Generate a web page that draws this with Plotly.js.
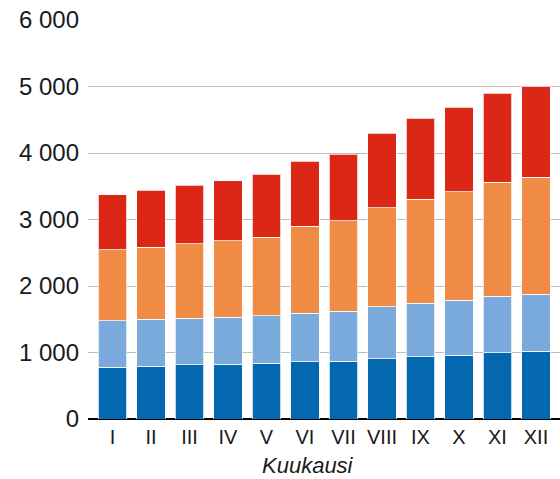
<!DOCTYPE html>
<html>
<head>
<meta charset="utf-8">
<script src="https://cdn.plot.ly/plotly-3.0.1.min.js"></script>
<style>html,body{margin:0;padding:0;background:#fff;}#chart{width:560px;height:479px;}</style>
</head>
<body>
<div id="chart"></div>
<script>
const months = ["I","II","III","IV","V","VI","VII","VIII","IX","X","XI","XII"];
const seriesDarkBlue  = [780, 795, 816, 820, 836, 862, 868, 905, 937, 961, 997, 1017];
const seriesLightBlue = [699, 703, 702, 709, 718, 731, 751, 785, 802, 828, 852, 858];
const seriesOrange    = [1063, 1085, 1121, 1149, 1179, 1306, 1366, 1485, 1562, 1627, 1713, 1758];
const seriesRed       = [828, 854, 873, 903, 945, 979, 998, 1120, 1220, 1275, 1340, 1370];
const yTickVals = [0, 1000, 2000, 3000, 4000, 5000, 6000];
const yTickText = ["0", "1 000", "2 000", "3 000", "4 000", "5 000", "6 000"];
const xTitle = "Kuukausi";

const colors = ["#0468b1", "#79aadb", "#f08b45", "#dc2716"];
const allSeries = [seriesDarkBlue, seriesLightBlue, seriesOrange, seriesRed];

const traces = allSeries.map((vals, i) => ({
  type: "bar",
  x: months,
  y: vals,
  marker: { color: colors[i], line: { color: "rgba(255,255,255,0.75)", width: 1 } },
  hoverinfo: "skip",
  showlegend: false
}));

const font = "Liberation Sans, Arial, Helvetica, sans-serif";
const layout = {
  width: 560, height: 479,
  margin: { l: 88, r: 0, t: 20, b: 60, pad: 0 },
  paper_bgcolor: "#ffffff",
  plot_bgcolor: "#ffffff",
  barmode: "stack",
  bargap: 0.26,
  font: { family: font, color: "#1a1a1a" },
  xaxis: {
    type: "category",
    range: [-0.636, 11.624],
    showgrid: false,
    showline: false,
    zeroline: false,
    ticks: "",
    tickfont: { size: 20, family: font, color: "#1a1a1a" },
    ticklabelstandoff: 4
  },
  yaxis: {
    range: [0, 6000],
    tickvals: yTickVals,
    ticktext: yTickText,
    showgrid: true,
    gridcolor: "#bdbdbd",
    gridwidth: 1,
    zeroline: true,
    zerolinecolor: "#000000",
    zerolinewidth: 2.5,
    showline: false,
    ticks: "",
    ticklabelstandoff: 8,
    tickfont: { size: 24, family: font, color: "#1a1a1a" },
    fixedrange: true
  },
  annotations: [{
    text: xTitle,
    xref: "paper", yref: "paper",
    x: 0.467, y: -0.082,
    xanchor: "center", yanchor: "top",
    borderpad: 0,
    showarrow: false,
    font: { size: 22, family: font, color: "#1a1a1a", style: "italic" }
  }]
};

Plotly.newPlot("chart", traces, layout, { displayModeBar: false, staticPlot: true });
</script>
</body>
</html>
